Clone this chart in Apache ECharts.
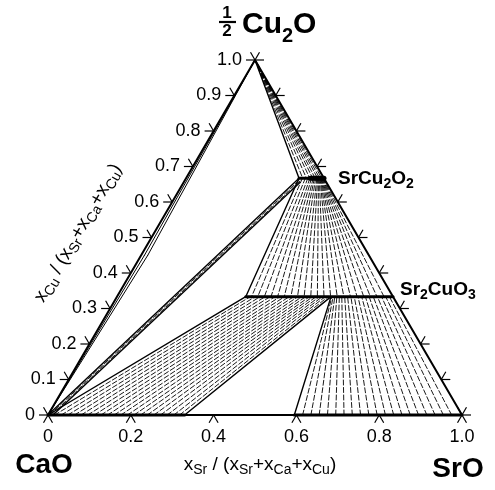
<!DOCTYPE html>
<html>
<head>
<meta charset="utf-8">
<script src="https://cdn.jsdelivr.net/npm/echarts@6/dist/echarts.min.js"></script>
<style>
  html, body { margin: 0; padding: 0; background: #fff; }
  #c { width: 495px; height: 490px; }
</style>
</head>
<body>
<div id="c"></div>
<script>
// Isothermal section CaO – SrO – CuO0.5 (Cu2O).
// Every composition is written as [xSr, xCu] with xCa = 1 - xSr - xCu.

const vertexCaO = [0, 0];
const vertexSrO = [1, 0];
const vertexCu2O = [0, 1];

// Solid-solution ranges (xSr) of the two cuprates and the rock-salt gap
const srCu2O2Range = [0.273, 1 / 3];   // (Sr,Ca)Cu2O2 at xCu = 2/3
const sr2CuO3Range = [0.311, 2 / 3];   // (Sr,Ca)2CuO3 at xCu = 1/3
const oxideGap = [0.33, 0.595];        // (Ca,Sr)O miscibility gap on the base

// Tie lines Cu2O + (Sr,Ca)Cu2O2: xSr at the cuprate end
const tieCu2O = [0.282, 0.291, 0.299, 0.306, 0.312, 0.318, 0.323, 0.328];

// CaO + Cu2O band along the CaO – Cu2O edge: [xSr at base, xSr at bend, xCu at bend]
const tieCaOCu2O = [[0, 0.008, 0.45], [0, 0.016, 0.45]];

// CaO + (Sr,Ca)Cu2O2 band: [xSr at base, xSr at cuprate end, xCu at cuprate end]
const tieCaOSrCu2O2 = [[0.004, 0.276, 0.662], [0.008, 0.279, 0.659]];
const bandLower = [[0.012, 0], [0.281, 0.655]];

// Tie lines (Sr,Ca)Cu2O2 + (Sr,Ca)2CuO3: [xSr in SrCu2O2, xSr in Sr2CuO3]
const tieSrCu2O2Sr2CuO3 = [
  [0.281, 0.325], [0.288, 0.340], [0.294, 0.356], [0.299, 0.372], [0.303, 0.388],
  [0.307, 0.404], [0.310, 0.420], [0.313, 0.436], [0.316, 0.452], [0.318, 0.468],
  [0.320, 0.484], [0.322, 0.500], [0.324, 0.516], [0.325, 0.532], [0.326, 0.548],
  [0.327, 0.564], [0.328, 0.580], [0.329, 0.596], [0.330, 0.612], [0.331, 0.628],
  [0.332, 0.645]
];

// Tie lines (Ca,Sr)O + (Sr,Ca)2CuO3, Ca-rich side: [xSr in oxide, xSr in Sr2CuO3]
const tieCaOSr2CuO3 = [
  [0.016, 0.322], [0.032, 0.334], [0.048, 0.346], [0.064, 0.358], [0.080, 0.370],
  [0.096, 0.382], [0.112, 0.394], [0.128, 0.405], [0.144, 0.416], [0.160, 0.427],
  [0.176, 0.437], [0.192, 0.447], [0.208, 0.456], [0.224, 0.465], [0.240, 0.473],
  [0.256, 0.481], [0.272, 0.489], [0.288, 0.496], [0.304, 0.503], [0.318, 0.510]
];
const sr2CuO3GapCorner = 0.517;  // Sr2CuO3 composition of the three-phase triangle

// Tie lines (Sr,Ca)O + (Sr,Ca)2CuO3, Sr-rich side: [xSr in oxide, xSr in Sr2CuO3]
const tieSrOSr2CuO3 = [
  [0.615, 0.519], [0.635, 0.522], [0.655, 0.526], [0.675, 0.531], [0.695, 0.537],
  [0.715, 0.543], [0.735, 0.550], [0.755, 0.557], [0.775, 0.565], [0.795, 0.573],
  [0.815, 0.582], [0.835, 0.591], [0.855, 0.600], [0.875, 0.609], [0.895, 0.619],
  [0.915, 0.629], [0.935, 0.639], [0.955, 0.649], [0.975, 0.658]
];

// Axis ticks and their labels
const edgeTickValues = [0.1, 0.2, 0.3, 0.4, 0.5, 0.6, 0.7, 0.8, 0.9];
const baseTickValues = [0.2, 0.4, 0.6, 0.8];
const cuLabelValues = [0, 0.1, 0.2, 0.3, 0.4, 0.5, 0.6, 0.7, 0.8, 0.9, 1.0];
const cuLabels = ['0', '0.1', '0.2', '0.3', '0.4', '0.5', '0.6', '0.7', '0.8', '0.9', '1.0'];
const srLabels = ['0', '0.2', '0.4', '0.6', '0.8', '1.0'];

const FONT = "'Liberation Sans', Arial, Helvetica, sans-serif";

// composition -> plane of the triangle (x = xSr + xCu/2, y = xCu)
const toXY = ([s, c]) => [s + c / 2, c];
const seg = (p, q) => [...toXY(p), ...toXY(q)];

const edges = [
  seg(vertexCaO, vertexSrO), seg(vertexSrO, vertexCu2O), seg(vertexCu2O, vertexCaO)
];
const baseSolidSolutions = [
  seg(vertexCaO, [oxideGap[0], 0]), seg([oxideGap[1], 0], vertexSrO)
];
const cuprateLines = [
  seg([srCu2O2Range[0], 2 / 3], [srCu2O2Range[1], 2 / 3]),
  seg([sr2CuO3Range[0], 1 / 3], [sr2CuO3Range[1], 1 / 3])
];
const cuprateCore = [seg([0.300, 2 / 3], [srCu2O2Range[1], 2 / 3])];

const boundaries = [
  seg(vertexCu2O, [srCu2O2Range[0], 2 / 3]),
  seg(vertexCaO, [srCu2O2Range[0], 2 / 3]),
  seg(bandLower[0], bandLower[1]),
  seg([srCu2O2Range[0], 2 / 3], [sr2CuO3Range[0], 1 / 3]),
  seg(vertexCaO, [sr2CuO3Range[0], 1 / 3]),
  seg([oxideGap[0], 0], [sr2CuO3GapCorner, 1 / 3]),
  seg([oxideGap[1], 0], [sr2CuO3GapCorner, 1 / 3])
];

const edgeBand = [];
tieCaOCu2O.forEach(([s0, s1, c1]) => {
  edgeBand.push(seg([s0, 0], [s1, c1]), seg([s1, c1], vertexCu2O));
});

const ties = [];
tieCu2O.forEach(s => ties.push(seg(vertexCu2O, [s, 2 / 3])));
tieCaOSrCu2O2.forEach(([s0, s1, c1]) => ties.push(seg([s0, 0], [s1, c1])));
tieSrCu2O2Sr2CuO3.forEach(([a, b]) => ties.push(seg([a, 2 / 3], [b, 1 / 3])));
tieCaOSr2CuO3.forEach(([a, b]) => ties.push(seg([a, 0], [b, 1 / 3])));
tieSrOSr2CuO3.forEach(([a, b]) => ties.push(seg([a, 0], [b, 1 / 3])));

// tick marks: [x, y, kind] kind 0 = base, 1 = left edge, 2 = right edge, 3 = corner
const ticks = [];
baseTickValues.forEach(v => ticks.push([...toXY([v, 0]), 0]));
edgeTickValues.forEach(v => ticks.push([...toXY([0, v]), 1]));
edgeTickValues.forEach(v => ticks.push([...toXY([1 - v, v]), 2]));
[vertexCaO, vertexSrO, vertexCu2O].forEach(p => ticks.push([...toXY(p), 3]));

function segmentSeries(data, width, dash) {
  return {
    type: 'custom',
    coordinateSystem: 'cartesian2d',
    clip: false,
    silent: true,
    encode: { x: [0, 2], y: [1, 3] },
    data,
    renderItem(params, api) {
      const a = api.coord([api.value(0), api.value(1)]);
      const b = api.coord([api.value(2), api.value(3)]);
      return {
        type: 'line',
        shape: { x1: a[0], y1: a[1], x2: b[0], y2: b[1] },
        style: { stroke: '#000', lineWidth: width, lineDash: dash || null, lineCap: 'round' }
      };
    }
  };
}

const C60 = 0.5, S60 = Math.sqrt(3) / 2;
const tickSeries = {
  type: 'custom',
  coordinateSystem: 'cartesian2d',
  clip: false,
  silent: true,
  encode: { x: 0, y: 1 },
  data: ticks,
  renderItem(params, api) {
    const p = api.coord([api.value(0), api.value(1)]);
    const kind = api.value(2);
    const L = 9;
    const line = (x1, y1, x2, y2) => ({
      type: 'line', shape: { x1, y1, x2, y2 },
      style: { stroke: '#000', lineWidth: 1.2 }
    });
    let children;
    if (kind === 3) {
      children = [[1, 0], [C60, S60], [-C60, S60]].map(([dx, dy]) =>
        line(p[0] - L * dx, p[1] - L * dy, p[0] + L * dx, p[1] + L * dy));
    } else {
      const dirs = kind === 0 ? [[-C60, S60], [C60, S60]]
                 : kind === 1 ? [[-1, 0], [-C60, -S60]]
                 : [[1, 0], [C60, -S60]];
      children = dirs.map(([dx, dy]) => line(p[0], p[1], p[0] + L * dx, p[1] + L * dy));
    }
    return { type: 'group', children };
  }
};

// xCu labels set along the CaO – Cu2O edge
const cuLabelSeries = {
  type: 'custom',
  coordinateSystem: 'cartesian2d',
  clip: false,
  silent: true,
  encode: { x: 0, y: 1 },
  data: cuLabelValues.map((v, i) => [...toXY([0, v]), i]),
  renderItem(params, api) {
    const p = api.coord([api.value(0), api.value(1)]);
    return {
      type: 'text',
      x: p[0] - 13, y: p[1],
      style: {
        text: cuLabels[api.value(2)], font: '18px ' + FONT, fill: '#000',
        align: 'right', verticalAlign: 'middle'
      }
    };
  }
};

// Text with subscripts, laid out piece by piece: [text, fontSize, bold, drop]
const measureCtx = document.createElement('canvas').getContext('2d');
function composedText(pieces, x, y, align, rotation) {
  let width = 0;
  const items = pieces.map(([t, size, bold, drop]) => {
    const font = (bold ? 'bold ' : '') + size + 'px ' + FONT;
    measureCtx.font = font;
    const item = { t, font, x: width, drop };
    width += measureCtx.measureText(t).width;
    return item;
  });
  const x0 = align === 'center' ? -width / 2 : 0;
  return {
    type: 'group', x, y, rotation: rotation || 0,
    children: items.map(it => ({
      type: 'text', x: x0 + it.x, y: it.drop,
      style: { text: it.t, font: it.font, fill: '#000', align: 'left', verticalAlign: 'middle' }
    }))
  };
}

const axisTitlePieces = (elt) => [
  ['x', 19, false, 0], [elt, 14, false, 5], [' / (x', 19, false, 0], ['Sr', 14, false, 5],
  ['+x', 19, false, 0], ['Ca', 14, false, 5], ['+x', 19, false, 0], ['Cu', 14, false, 5],
  [')', 19, false, 0]
];

const chart = echarts.init(document.getElementById('c'));
chart.setOption({
  animation: false,
  backgroundColor: '#fff',
  grid: { left: 48, right: 33, top: 60, bottom: 75, containLabel: false },
  xAxis: {
    type: 'value', min: 0, max: 1, interval: 0.2,
    axisLine: { show: false }, axisTick: { show: false }, splitLine: { show: false },
    axisLabel: {
      formatter: v => srLabels[Math.round(v * 5)],
      fontFamily: FONT, fontSize: 18, color: '#000', margin: 13
    }
  },
  yAxis: { type: 'value', min: 0, max: 1, show: false },
  series: [
    segmentSeries(ties, 0.9, [5, 2.5]),
    segmentSeries(edgeBand, 1),
    segmentSeries(boundaries, 1.4),
    segmentSeries(edges, 2),
    segmentSeries(baseSolidSolutions, 3),
    segmentSeries(cuprateLines, 3),
    segmentSeries(cuprateCore, 5),
    tickSeries,
    cuLabelSeries
  ],
  graphic: [
    // ½ Cu2O at the apex
    { type: 'text', x: 227, y: 13, style: { text: '1', font: 'bold 17px ' + FONT, fill: '#000', align: 'center', verticalAlign: 'middle' } },
    { type: 'line', shape: { x1: 219, y1: 22, x2: 236, y2: 22 }, style: { stroke: '#000', lineWidth: 2.2 } },
    { type: 'text', x: 227, y: 31, style: { text: '2', font: 'bold 17px ' + FONT, fill: '#000', align: 'center', verticalAlign: 'middle' } },
    composedText([['Cu', 30, true, 0], ['2', 20, true, 11], ['O', 30, true, 0]], 242, 25, 'left'),
    // corner oxides
    { type: 'text', x: 44, y: 465, style: { text: 'CaO', font: 'bold 28px ' + FONT, fill: '#000', align: 'center', verticalAlign: 'middle' } },
    { type: 'text', x: 458, y: 469, style: { text: 'SrO', font: 'bold 28px ' + FONT, fill: '#000', align: 'center', verticalAlign: 'middle' } },
    // cuprate phases
    composedText([['SrCu', 19, true, 0], ['2', 14, true, 5], ['O', 19, true, 0], ['2', 14, true, 5]], 338, 179, 'left'),
    composedText([['Sr', 19, true, 0], ['2', 14, true, 5], ['CuO', 19, true, 0], ['3', 14, true, 5]], 400, 290, 'left'),
    // axis titles
    composedText(axisTitlePieces('Sr'), 260, 465, 'center'),
    composedText(axisTitlePieces('Cu'), 78, 233, 'center', Math.PI / 3)
  ]
});
</script>
</body>
</html>
